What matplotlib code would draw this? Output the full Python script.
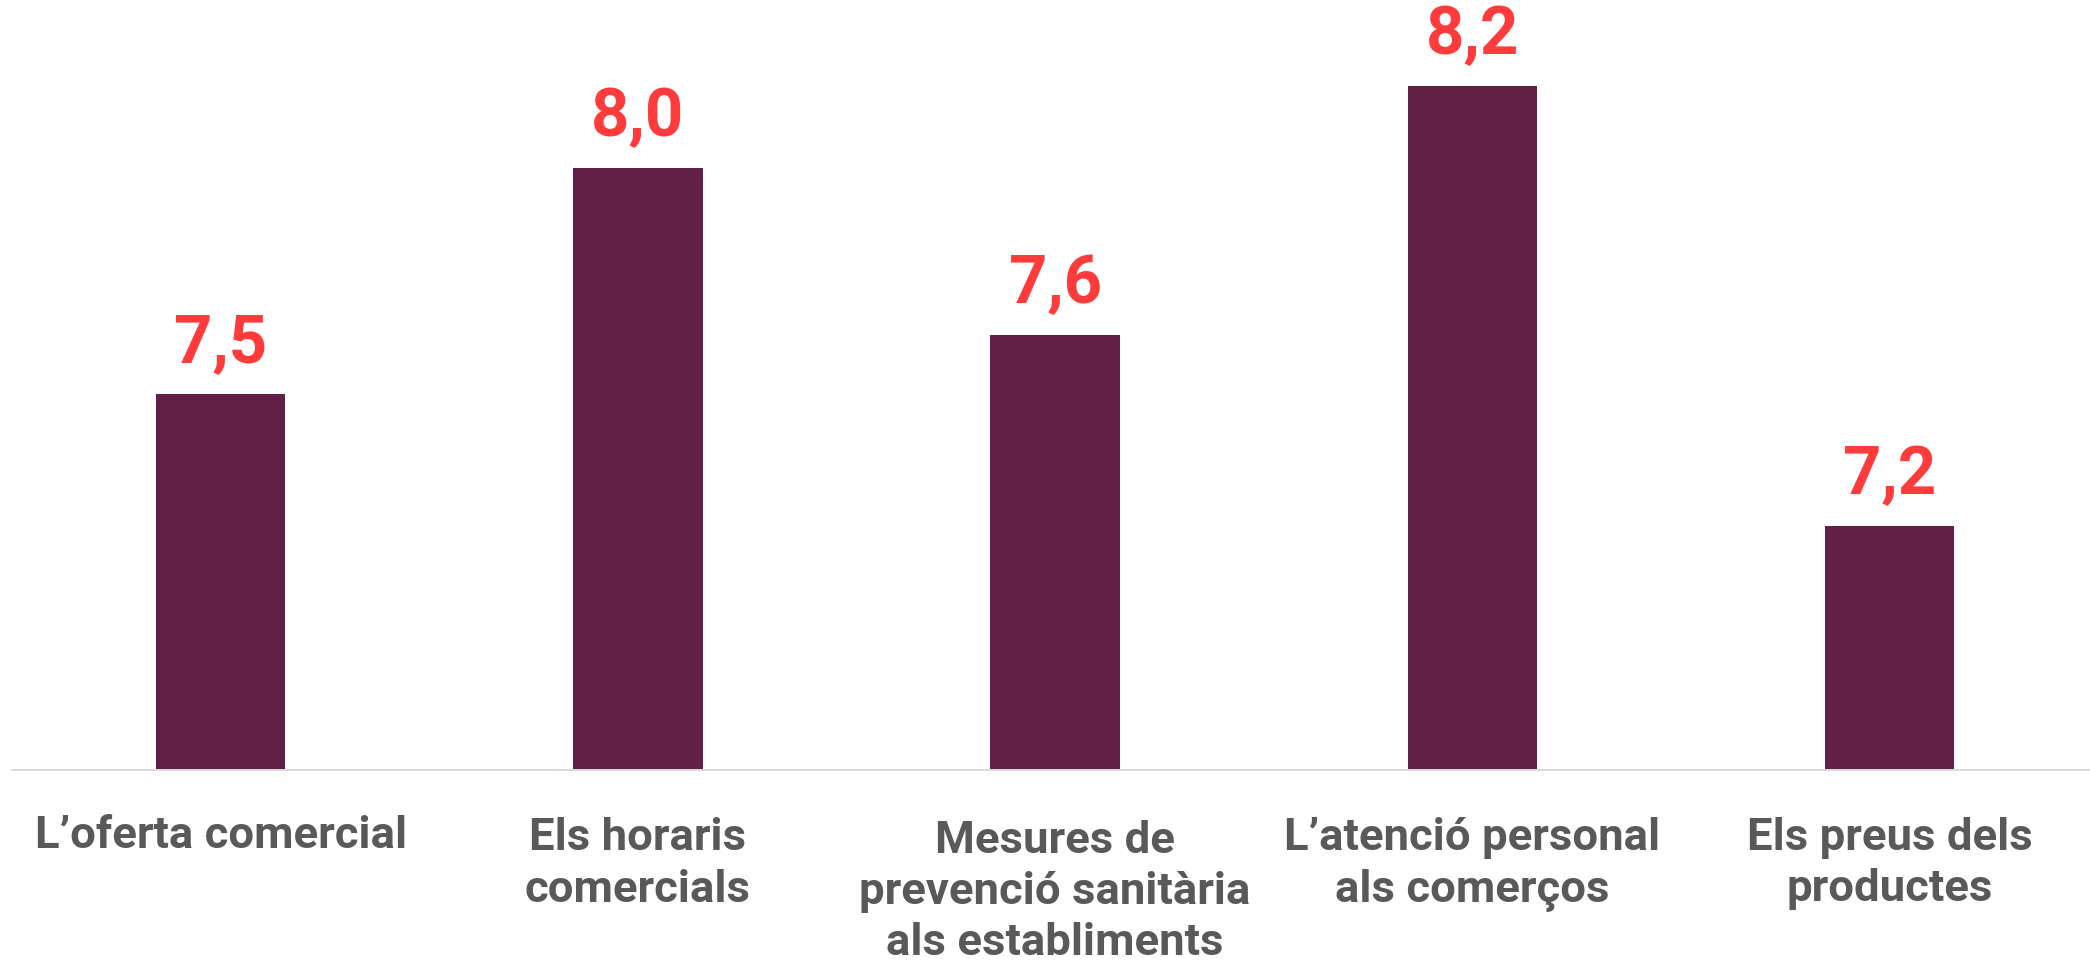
import matplotlib
matplotlib.use("Agg")
import matplotlib.pyplot as plt

categories = [
    "L\u2019oferta comercial",
    "Els horaris\ncomercials",
    "Mesures de\nprevenci\u00f3 sanit\u00e0ria\nals establiments",
    "L\u2019atenci\u00f3 personal\nals comer\u00e7os",
    "Els preus dels\nproductes",
]
values = [7.50, 8.00, 7.63, 8.18, 7.21]
value_labels = [f"{v:.1f}".replace(".", ",") for v in values]

fam = ["Roboto", "DejaVu Sans"]
W, H = 2090, 967
PX = 72 / 100  # points per pixel at dpi 100

fig = plt.figure(figsize=(W / 100, H / 100), dpi=100)
fig.patch.set_facecolor("white")
ax = fig.add_axes([12 / W, (H - 770) / H, (W - 12) / W, 770 / H])
ax.set_facecolor("none")

ymin = 6.67
x = list(range(len(categories)))
ax.bar(x, [v - ymin for v in values], bottom=ymin, width=0.31, color="#611F45", zorder=2)
ax.set_xlim(-0.5, 4.48)
ax.set_ylim(ymin, ymin + 770 / 452.7)

for xi, v, lab in zip(x, values, value_labels):
    ax.annotate(lab, (xi, v), xytext=(0, 32 * PX), textcoords="offset points",
                ha="center", va="baseline", color="#FF3B3B", fontsize=67 * PX,
                fontweight="bold", family=fam)

# category labels below the axis, first-line baseline 78 px under the axis
ax.set_xticks(x)
ax.set_xticklabels([])
ax.tick_params(axis="x", length=0)
trans = ax.get_xaxis_transform()
for xi, cat in zip(x, categories):
    n = cat.count("\n")
    ax.annotate(cat, (xi, 0), xycoords=trans,
                xytext=(0, -(78 + n * 53.5) * PX), textcoords="offset points",
                ha="center", va="baseline", multialignment="center",
                fontsize=45.5 * PX, fontweight="bold", color="#595959",
                family=fam, linespacing=1.28, annotation_clip=False)

ax.set_yticks([])
for s in ["top", "right", "left"]:
    ax.spines[s].set_visible(False)
ax.spines["bottom"].set_color("#D9D9D9")
ax.spines["bottom"].set_linewidth(2 * PX)

fig.savefig("out.png", dpi=100)
